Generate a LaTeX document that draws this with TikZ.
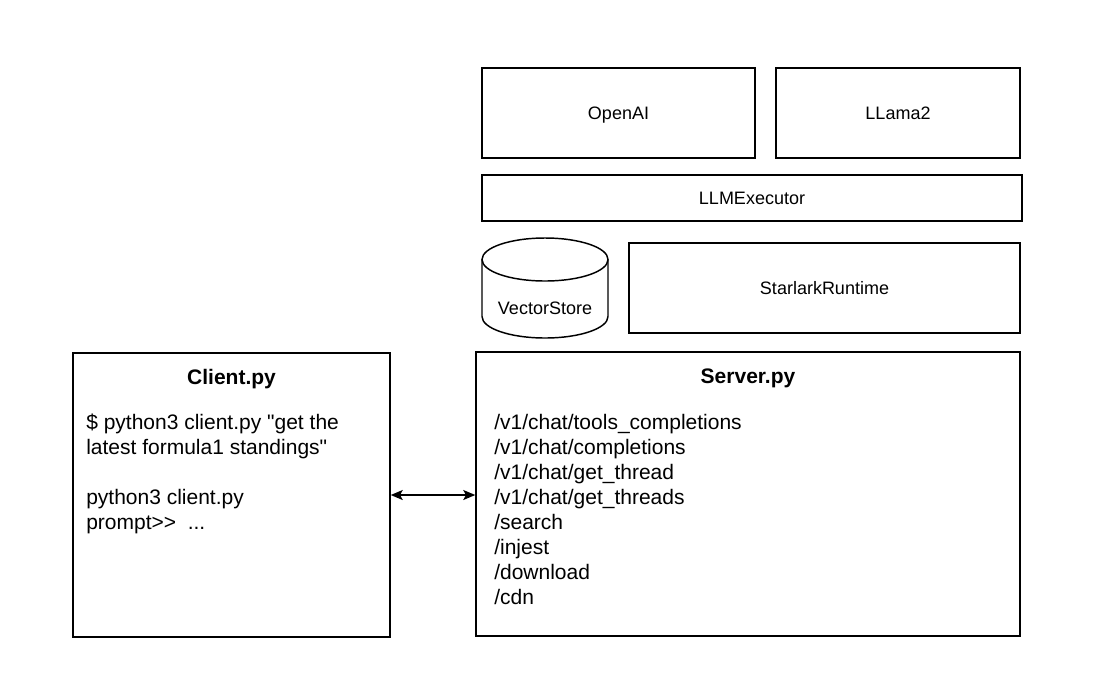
\documentclass[tikz,border=0pt]{standalone}
\usepackage{fontspec}
\setmainfont{Liberation Sans}[Ligatures=TeXOff]
\usetikzlibrary{positioning,arrows.meta}

\begin{document}
\begin{tikzpicture}[x=0.75pt, y=-0.75pt]
	\tikzstyle{box} = [rectangle, draw, line width=1.1pt, inner sep=0pt, align=center, text height=12pt, text depth=2.6pt, font=\fontsize{13.5}{16}\selectfont]
	\tikzstyle{caption} = [inner sep=0pt, text height=12pt, text depth=2.6pt, font=\fontsize{13.5}{16}\selectfont]
	\tikzstyle{title} = [inner sep=0pt, text height=14pt, text depth=3.1pt, font=\fontsize{15.75}{18.75}\selectfont\bfseries]
	\tikzstyle{listing} = [inner sep=0pt, align=left, anchor=north west, font=\fontsize{15.75}{18.75}\selectfont]
	\useasboundingbox (0,0) rectangle (1119,693);
	% backends
	\node[box, minimum width=204.75pt, minimum height=67.5pt] (openai) at (618.5,113) {OpenAI};
	\node[box, minimum width=183pt, minimum height=67.5pt] (llama) at (898,113) {LLama2};
	\node[box, minimum width=405pt, minimum height=34.5pt] (executor) at (752,198) {LLMExecutor};
	\node[box, minimum width=293.25pt, minimum height=67.5pt] (starlark) at (824.5,288) {StarlarkRuntime};
	% vector store cylinder
	\draw[line width=1.1pt] (545,259.5) ellipse [x radius=63, y radius=21.5];
	\draw[line width=1.1pt] (482,259.5) -- (482,316.5) arc[start angle=180, end angle=0, x radius=63, y radius=21.5] -- (608,259.5);
	\node[caption] (vector) at (545,308) {VectorStore};
	% client and server
	\node[box, minimum width=237.75pt, minimum height=213pt] (client) at (231.5,495) {};
	\node[box, minimum width=408pt, minimum height=213pt] (server) at (748,494) {};
	\node[title] (clienttitle) at (231.5,377) {Client.py};
	\node[title] (servertitle) at (748,376) {Server.py};
	\node[listing] (clientcmd) at (86,414) {\$ python3 client.py "get the\\latest formula1 standings"};
	\node[listing] (clientrepl) at (86,489) {python3 client.py\\prompt>>~~...};
	\node[listing] (routes) at (494,414) {/v1/chat/tools\_completions\\/v1/chat/completions\\/v1/chat/get\_thread\\/v1/chat/get\_threads\\/search\\/injest\\/download\\/cdn};
	\draw[{Stealth[length=9pt,width=7.5pt,inset=2pt]}-{Stealth[length=9pt,width=7.5pt,inset=2pt]}, line width=1.1pt] (client.east) -- (client.east -| server.west);
\end{tikzpicture}
\end{document}
